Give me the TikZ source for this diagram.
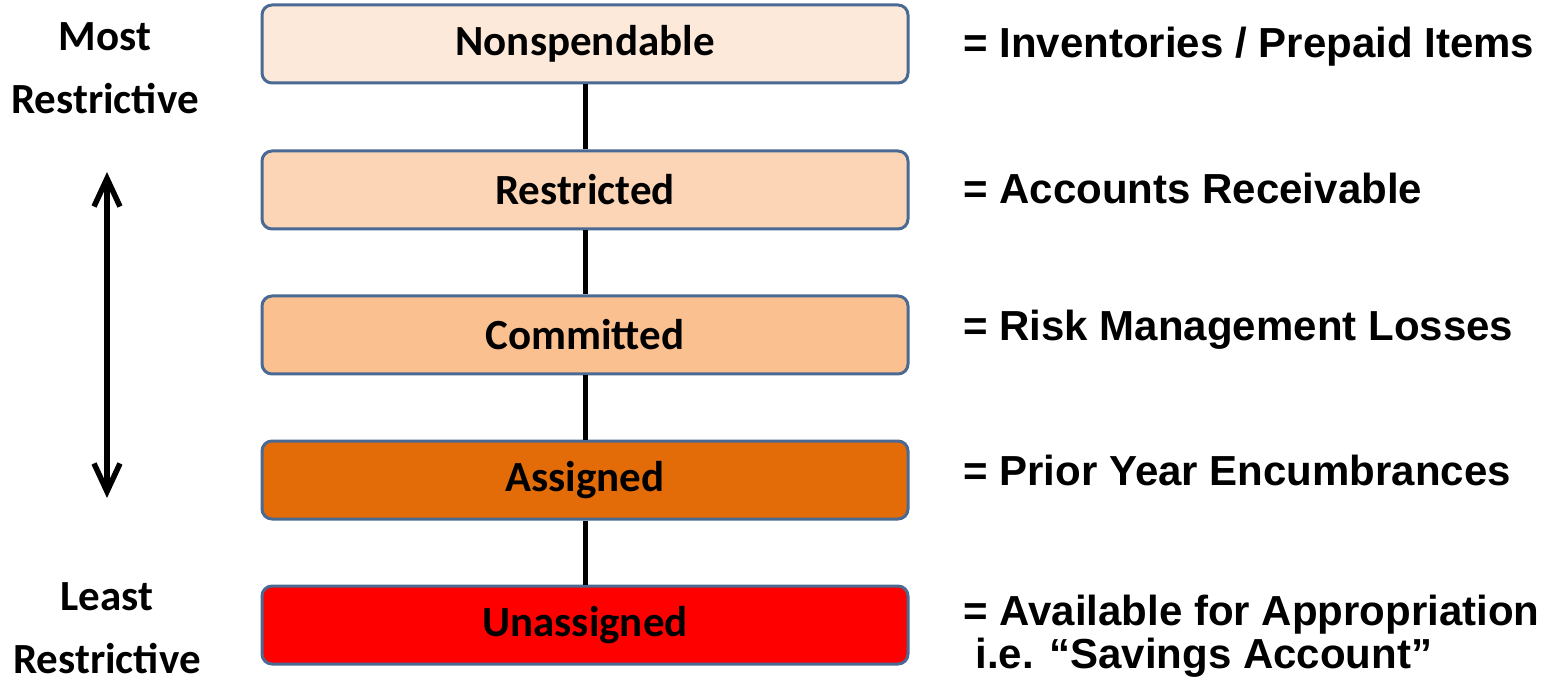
\documentclass[tikz,border=0pt]{standalone}
\usepackage{fontspec}
\newfontfamily\boxfont{Carlito}
\newfontfamily\notefont{Liberation Sans}
\usetikzlibrary{arrows.meta}
\definecolor{edgeblue}{HTML}{4A6A94}
\definecolor{nonspfill}{HTML}{FDE9D9}
\definecolor{restrfill}{HTML}{FBD5B5}
\definecolor{commfill}{HTML}{FAC090}
\definecolor{assfill}{HTML}{E36C09}
\definecolor{unassfill}{HTML}{FF0000}
\begin{document}
\begin{tikzpicture}[x=0.5pt,y=-0.5pt,
        level/.style={draw=edgeblue,line width=1.5pt,rounded corners=5pt,
            minimum width=323pt,minimum height=39pt,inner sep=0pt,
            font=\boxfont\bfseries\fontsize{21.5}{24}\selectfont},
        note/.style={anchor=west,align=left,inner sep=0pt,
            font=\notefont\bfseries\fontsize{21}{21.5}\selectfont},
        side/.style={align=center,inner sep=0pt,
            font=\boxfont\bfseries\fontsize{21.5}{31.5}\selectfont},
        link/.style={line width=2.5pt},
        barb/.tip={Straight Barb[length=14pt,width=13pt]}]
\useasboundingbox (0,0) rectangle (1550,683);

\node[level,fill=nonspfill] (nonsp) at (585,44) {Nonspendable};
\node[level,fill=restrfill] (restr) at (585,190) {Restricted};
\node[level,fill=commfill]  (comm)  at (585,335) {Committed};
\node[level,fill=assfill]   (ass)   at (585,480) {Assigned};
\node[level,fill=unassfill] (unass) at (585,625) {Unassigned};

\draw[link] (nonsp.south) -- (restr.north);
\draw[link] (restr.south) -- (comm.north);
\draw[link] (comm.south)  -- (ass.north);
\draw[link] (ass.south)   -- (unass.north);

\node[note] (invent) at (963,47)  {= Inventories / Prepaid Items};
\node[note] (recv)   at (963,188) {= Accounts Receivable};
\node[note] (risk)   at (963,330) {= Risk Management Losses};
\node[note] (prior)  at (963,470) {= Prior Year Encumbrances};
\node[note] (avail)  at (963,636) {= Available for Appropriation\\\hspace*{6pt}i.e. “Savings Account”};

\node[side] (most)  at (105,68)  {Most\\Restrictive};
\node[side] (least) at (107,628) {Least\\Restrictive};

\coordinate (uptip) at (107,172);
\coordinate (downtip) at (107,498);
\draw[line width=2.75pt,barb-barb] (uptip) -- (downtip);

\end{tikzpicture}
\end{document}
